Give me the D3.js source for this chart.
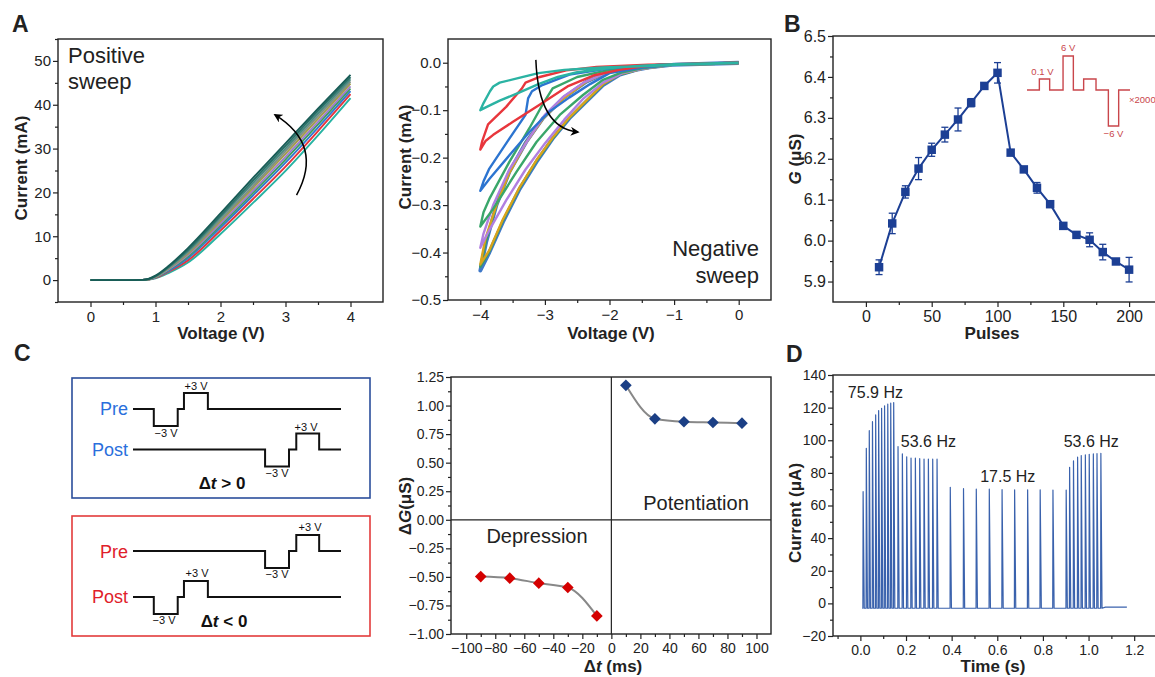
<!DOCTYPE html>
<html>
<head>
<meta charset="utf-8">
<script src="https://cdn.jsdelivr.net/npm/d3@7"></script>
<style>
  body { margin: 0; background: #fff; }
  svg { display: block; font-family: "Liberation Sans", Arial, Helvetica, sans-serif; }
</style>
</head>
<body>
<svg id="fig" width="1155" height="677"></svg>
<script>
// ---------- data ----------

// A, positive sweep: voltage grid and currents (mA) per cycle, bottom -> top
const sweepVoltage = [0, 0.5, 0.8, 0.9, 1.0, 1.2, 1.5, 2.0, 2.5, 3.0, 3.5, 4.0];
const positiveCurves = [
  { color: '#27b3a3', current: [0, 0, 0.02, 0.10, 0.40, 1.6, 4.0, 10.5, 17.6, 24.9, 33.0, 41.5] },
  { color: '#e5343c', current: [0, 0, 0.02, 0.12, 0.50, 1.9, 4.5, 11.3, 18.5, 25.9, 34.0, 42.4] },
  { color: '#3179d0', current: [0, 0, 0.03, 0.15, 0.60, 2.1, 5.0, 12.0, 19.3, 26.8, 34.8, 43.1] },
  { color: '#3a9f5c', current: [0, 0, 0.03, 0.17, 0.65, 2.3, 5.4, 12.5, 19.9, 27.5, 35.5, 43.7] },
  { color: '#9b7bd0', current: [0, 0, 0.03, 0.18, 0.70, 2.4, 5.7, 12.9, 20.4, 28.1, 36.1, 44.2] },
  { color: '#a39a4a', current: [0, 0, 0.04, 0.20, 0.75, 2.6, 6.0, 13.4, 21.0, 28.8, 36.8, 44.8] },
  { color: '#7e8f86', current: [0, 0, 0.04, 0.22, 0.80, 2.7, 6.3, 13.8, 21.5, 29.4, 37.4, 45.3] },
  { color: '#4b8a80', current: [0, 0, 0.04, 0.24, 0.85, 2.9, 6.6, 14.3, 22.1, 30.0, 38.0, 45.8] },
  { color: '#2a7068', current: [0, 0, 0.05, 0.27, 0.90, 3.0, 6.9, 14.7, 22.7, 30.6, 38.6, 46.3] },
  { color: '#185c56', current: [0, 0, 0.05, 0.30, 1.00, 3.2, 7.3, 15.2, 23.3, 31.2, 39.1, 46.8] },
];

// A, negative sweep: closed I-V loops [V, mA]
const negativeLoops = [
  { color: '#2bb3a3', width: 2.4, points: [[0,0],[-1,-0.003],[-1.5,-0.006],[-2,-0.011],[-2.5,-0.02],[-2.8,-0.03],[-3.1,-0.045],[-3.4,-0.063],[-3.7,-0.08],[-3.9,-0.093],[-4,-0.1],
    [-3.95,-0.085],[-3.85,-0.06],[-3.8,-0.05],[-3.7,-0.042],[-3.4,-0.032],[-3.1,-0.022],[-2.7,-0.015],[-2.1,-0.01],[-1.4,-0.007],[-0.7,-0.003],[0,-0.001]] },
  { color: '#e8363c', width: 2.4, points: [[0,0],[-1,-0.003],[-1.5,-0.008],[-1.85,-0.015],[-2.25,-0.027],[-2.65,-0.05],[-3.1,-0.09],[-3.5,-0.125],[-3.8,-0.152],[-3.92,-0.165],[-4,-0.183],
    [-3.97,-0.165],[-3.88,-0.13],[-3.6,-0.093],[-3.36,-0.055],[-3.3,-0.042],[-3.08,-0.03],[-2.67,-0.016],[-2.2,-0.009],[-1.4,-0.004],[0,-0.001]] },
  { color: '#2c74d0', width: 2.4, points: [[0,0],[-1,-0.004],[-1.5,-0.01],[-2,-0.022],[-2.3,-0.045],[-2.62,-0.073],[-2.93,-0.103],[-3.24,-0.146],[-3.55,-0.195],[-3.86,-0.245],[-4,-0.27],
    [-3.95,-0.25],[-3.86,-0.223],[-3.55,-0.16],[-3.3,-0.11],[-3.26,-0.075],[-3.2,-0.06],[-3.04,-0.047],[-2.62,-0.025],[-2,-0.012],[-1.2,-0.004],[0,-0.001]] },
  { color: '#3aa66a', width: 2.4, points: [[0,0],[-1,-0.004],[-1.5,-0.012],[-1.8,-0.02],[-2.1,-0.036],[-2.41,-0.068],[-2.77,-0.11],[-3.13,-0.167],[-3.44,-0.23],[-3.8,-0.308],[-4,-0.345],
    [-3.95,-0.315],[-3.86,-0.287],[-3.55,-0.209],[-3.24,-0.138],[-3.04,-0.089],[-2.88,-0.054],[-2.5,-0.03],[-2,-0.015],[-1.2,-0.005],[0,-0.001]] },
  { color: '#b07fe0', width: 2.4, points: [[0,0],[-1,-0.004],[-1.5,-0.013],[-1.8,-0.022],[-2.1,-0.042],[-2.4,-0.075],[-2.7,-0.12],[-3,-0.17],[-3.3,-0.225],[-3.6,-0.29],[-3.85,-0.35],[-4,-0.39],
    [-3.95,-0.36],[-3.8,-0.3],[-3.55,-0.225],[-3.25,-0.16],[-3,-0.11],[-2.7,-0.07],[-2.4,-0.042],[-2,-0.018],[-1.2,-0.005],[0,-0.001]] },
  { color: '#d8a31c', width: 2.4, points: [[0,0],[-1,-0.004],[-1.5,-0.013],[-1.84,-0.024],[-2.1,-0.045],[-2.36,-0.08],[-2.62,-0.115],[-2.88,-0.158],[-3.13,-0.205],[-3.39,-0.262],[-3.65,-0.33],[-3.86,-0.395],[-4,-0.425],
    [-3.92,-0.37],[-3.75,-0.3],[-3.55,-0.232],[-3.29,-0.168],[-3.03,-0.118],[-2.72,-0.076],[-2.36,-0.04],[-2,-0.018],[-1.2,-0.005],[0,-0.001]] },
  { color: '#3a9a66', width: 2.4, points: [[0,0],[-1,-0.004],[-1.5,-0.013],[-1.84,-0.025],[-2.1,-0.046],[-2.36,-0.081],[-2.62,-0.116],[-2.88,-0.16],[-3.13,-0.207],[-3.39,-0.264],[-3.65,-0.333],[-3.86,-0.398],[-4,-0.43],
    [-3.91,-0.375],[-3.75,-0.3],[-3.55,-0.23],[-3.29,-0.167],[-3.03,-0.117],[-2.72,-0.075],[-2.36,-0.04],[-2,-0.018],[-1.2,-0.005],[0,-0.001]] },
  { color: '#3f78c8', width: 3.8, points: [[0,0],[-1,-0.004],[-1.38,-0.01],[-1.59,-0.015],[-1.84,-0.025],[-2.1,-0.047],[-2.36,-0.082],[-2.62,-0.117],[-2.88,-0.16],[-3.13,-0.209],[-3.39,-0.266],[-3.65,-0.336],[-3.86,-0.4],[-4,-0.438],
    [-3.91,-0.379],[-3.75,-0.3],[-3.55,-0.23],[-3.29,-0.167],[-3.03,-0.117],[-2.72,-0.075],[-2.36,-0.04],[-2,-0.018],[-1.2,-0.005],[0,-0.001]] },
];

// B, conductance vs pulse number
const pulseNumbers = [10, 20, 30, 40, 50, 60, 70, 80, 90, 100, 110, 120, 130, 140, 150, 160, 170, 180, 190, 200];
const conductance = [5.935, 6.042, 6.119, 6.176, 6.222, 6.259, 6.296, 6.337, 6.378, 6.410, 6.215, 6.174, 6.129, 6.089, 6.036, 6.014, 6.002, 5.972, 5.949, 5.929];
const conductanceErr = [0.018, 0.025, 0.015, 0.027, 0.016, 0.018, 0.028, 0.010, 0.005, 0.025, 0.006, 0.004, 0.013, 0.007, 0.008, 0.005, 0.017, 0.019, 0.004, 0.030];
// B inset: pulse scheme [step position, volts]
const pulseScheme = [[0,0],[12,0],[12,0.1],[22,0.1],[22,0],[35,0],[35,6],[45,6],[45,0],[55,0],[55,0.1],[67,0.1],[67,0],[79,0],[79,-6],[89,-6],[89,0],[100,0]];

// C, spike-timing waveforms [time step, volts]
const waveEarly = [[0,0],[10,0],[10,-3],[21.5,-3],[21.5,0],[24.5,0],[24.5,3],[36,3],[36,0],[100,0]];
const waveLate = [[0,0],[63.5,0],[63.5,-3],[75,-3],[75,0],[78.5,0],[78.5,3],[89.5,3],[89.5,0],[100,0]];
// C, STDP
const dtPotentiation = [10, 30, 50, 70, 90];
const dGPotentiation = [1.177, 0.884, 0.858, 0.852, 0.846];
const dtDepression = [-90, -70, -50, -30, -10];
const dGDepression = [-0.497, -0.511, -0.555, -0.593, -0.842];

// D, spike train: times (s) and peak currents (uA)
const spikeTimes = [
  0.012, 0.026, 0.039, 0.053, 0.067, 0.080, 0.093, 0.106, 0.120, 0.133, 0.146,
  0.165, 0.184, 0.203, 0.222, 0.241, 0.260, 0.279, 0.298, 0.317, 0.336,
  0.394, 0.452, 0.508, 0.565, 0.621, 0.676, 0.733, 0.788, 0.844, 0.902,
  0.917, 0.934, 0.952, 0.968, 0.986, 1.003, 1.021, 1.037, 1.054,
];
const spikePeaks = [
  68.5, 95.1, 105.9, 111.4, 115.5, 118.2, 119.6, 121.1, 122.1, 122.7, 123.1,
  96.1, 91.6, 89.9, 89.1, 89.0, 88.7, 88.5, 88.5, 88.4, 88.4,
  71.2, 70.3, 70.0, 70.0, 69.8, 69.6, 69.6, 69.6, 69.5, 69.5,
  83.4, 87.3, 89.6, 90.6, 91.0, 91.4, 91.6, 91.8, 92.0,
];
const restCurrent = -3;
const tailCurrent = -2.3;
const traceStart = 0.008;
const traceEnd = 1.168;
const freqLabels = [
  { text: '75.9 Hz', t: 0.066, v: 126 },
  { text: '53.6 Hz', t: 0.298, v: 95.9 },
  { text: '17.5 Hz', t: 0.646, v: 74.6 },
  { text: '53.6 Hz', t: 1.012, v: 95.9 },
];

// ---------- drawing ----------
const svg = d3.select('#fig');
const ink = '#222';
let clipCount = 0;

const defs = svg.append('defs');
defs.append('marker')
  .attr('id', 'arrow').attr('viewBox', '0 0 10 10').attr('refX', 8).attr('refY', 5)
  .attr('markerWidth', 9).attr('markerHeight', 9).attr('markerUnits', 'userSpaceOnUse')
  .attr('orient', 'auto')
  .append('path').attr('d', 'M0,0 L10,5 L0,10 L3,5 Z').attr('fill', '#000');

/**
 * Framed plot with outward major/minor ticks on bottom and left.
 */
const makePanel = o => {
  const x = d3.scaleLinear().domain(o.xDomain).range([o.left, o.right]);
  const y = d3.scaleLinear().domain(o.yDomain).range([o.bottom, o.top]);
  const id = 'clip' + (clipCount++);
  defs.append('clipPath').attr('id', id).append('rect')
    .attr('x', o.left).attr('y', o.top).attr('width', o.right - o.left).attr('height', o.bottom - o.top);

  const axes = svg.append('g');
  axes.append('g').attr('transform', `translate(0,${o.bottom})`)
    .call(d3.axisBottom(x).tickValues(o.xMinor).tickFormat('').tickSize(3).tickSizeOuter(0));
  axes.append('g').attr('transform', `translate(0,${o.bottom})`)
    .call(d3.axisBottom(x).tickValues(o.xTicks).tickFormat(o.xFormat).tickSize(5).tickSizeOuter(0).tickPadding(4));
  axes.append('g').attr('transform', `translate(${o.left},0)`)
    .call(d3.axisLeft(y).tickValues(o.yMinor).tickFormat('').tickSize(3).tickSizeOuter(0));
  axes.append('g').attr('transform', `translate(${o.left},0)`)
    .call(d3.axisLeft(y).tickValues(o.yTicks).tickFormat(o.yFormat).tickSize(5).tickSizeOuter(0).tickPadding(2));
  axes.selectAll('.domain').attr('stroke', 'none');
  axes.selectAll('.tick line').attr('stroke', ink).attr('stroke-width', 1.2);
  axes.selectAll('.tick text').attr('fill', ink).style('font-size', o.fontSize + 'px')
    .style('font-family', '"Liberation Sans", Arial, sans-serif');

  svg.append('rect')
    .attr('x', o.left).attr('y', o.top).attr('width', o.right - o.left).attr('height', o.bottom - o.top)
    .attr('fill', 'none').attr('stroke', ink).attr('stroke-width', 1.4);

  const plot = svg.append('g').attr('clip-path', `url(#${id})`);
  return { x, y, plot };
};

const boldText = (x, y, txt, size, anchor) => svg.append('text')
  .attr('x', x).attr('y', y).attr('text-anchor', anchor || 'middle')
  .style('font-size', size + 'px').style('font-weight', 'bold').attr('fill', ink).text(txt);

const rotatedTitle = (cx, cy, size) => svg.append('text')
  .attr('transform', `translate(${cx},${cy}) rotate(-90)`)
  .attr('text-anchor', 'middle').style('font-size', size + 'px').style('font-weight', 'bold').attr('fill', ink);

// panel letters
boldText(12, 32, 'A', 23, 'start');
boldText(784, 32, 'B', 23, 'start');
boldText(14, 361, 'C', 23, 'start');
boldText(786, 362, 'D', 23, 'start');

// ---- A: positive sweep ----
{
  const p = makePanel({
    left: 58, right: 383, top: 39, bottom: 302,
    xDomain: [-0.5, 4.5], yDomain: [-5, 55],
    xTicks: [0, 1, 2, 3, 4], xMinor: [0.5, 1.5, 2.5, 3.5], xFormat: d3.format('d'),
    yTicks: [0, 10, 20, 30, 40, 50], yMinor: [-5, 5, 15, 25, 35, 45, 55], yFormat: d3.format('d'),
    fontSize: 15,
  });
  const line = d3.line().x((d, i) => p.x(sweepVoltage[i])).y(d => p.y(d)).curve(d3.curveMonotoneX);
  p.plot.selectAll('path.iv').data(positiveCurves).enter().append('path')
    .attr('class', 'iv').attr('d', d => line(d.current))
    .attr('fill', 'none').attr('stroke', d => d.color).attr('stroke-width', 1.9);

  const path = d3.path();
  path.moveTo(p.x(3.17), p.y(19.4));
  path.quadraticCurveTo(p.x(3.59), p.y(30.8), p.x(2.84), p.y(37.7));
  svg.append('path').attr('d', path.toString()).attr('fill', 'none').attr('stroke', '#000')
    .attr('stroke-width', 1.5).attr('marker-end', 'url(#arrow)');

  svg.append('text').attr('x', 68).attr('y', 63).style('font-size', '22px').attr('fill', ink).text('Positive');
  svg.append('text').attr('x', 68).attr('y', 89).style('font-size', '22px').attr('fill', ink).text('sweep');
  boldText(221, 339, 'Voltage (V)', 17);
  rotatedTitle(27, 168, 17).text('Current (mA)');
}

// ---- A: negative sweep ----
{
  const p = makePanel({
    left: 448, right: 771, top: 39, bottom: 300,
    xDomain: [-4.5, 0.5], yDomain: [-0.5, 0.05],
    xTicks: [-4, -3, -2, -1, 0], xMinor: [-3.5, -2.5, -1.5, -0.5], xFormat: d3.format('d'),
    yTicks: [0, -0.1, -0.2, -0.3, -0.4, -0.5], yMinor: [-0.05, -0.15, -0.25, -0.35, -0.45], yFormat: d3.format('.1f'),
    fontSize: 15,
  });
  const line = d3.line().x(d => p.x(d[0])).y(d => p.y(d[1])).curve(d3.curveLinear);
  p.plot.selectAll('path.loop').data(negativeLoops.slice().reverse()).enter().append('path')
    .attr('class', 'loop').attr('d', d => line(d.points))
    .attr('fill', 'none').attr('stroke', d => d.color).attr('stroke-width', d => d.width)
    .attr('stroke-linejoin', 'round');

  const path = d3.path();
  path.moveTo(p.x(-3.14), p.y(0.006));
  path.quadraticCurveTo(p.x(-3.1), p.y(-0.138), p.x(-2.49), p.y(-0.146));
  svg.append('path').attr('d', path.toString()).attr('fill', 'none').attr('stroke', '#000')
    .attr('stroke-width', 1.5).attr('marker-end', 'url(#arrow)');

  svg.append('text').attr('x', 759).attr('y', 256).attr('text-anchor', 'end').style('font-size', '22px').attr('fill', ink).text('Negative');
  svg.append('text').attr('x', 759).attr('y', 283).attr('text-anchor', 'end').style('font-size', '22px').attr('fill', ink).text('sweep');
  boldText(611, 339, 'Voltage (V)', 17);
  rotatedTitle(411, 157, 17).text('Current (mA)');
}

// ---- B: potentiation / depression ----
{
  const navy = '#1c3f94';
  const p = makePanel({
    left: 833, right: 1162, top: 36, bottom: 302,
    xDomain: [-25, 225], yDomain: [5.85, 6.5],
    xTicks: [0, 50, 100, 150, 200], xMinor: [25, 75, 125, 175], xFormat: d3.format('d'),
    yTicks: [5.9, 6.0, 6.1, 6.2, 6.3, 6.4, 6.5], yMinor: [5.95, 6.05, 6.15, 6.25, 6.35, 6.45], yFormat: d3.format('.1f'),
    fontSize: 16,
  });
  const pts = pulseNumbers.map((n, i) => ({ n, g: conductance[i], e: conductanceErr[i] }));
  p.plot.append('path').datum(pts)
    .attr('d', d3.line().x(d => p.x(d.n)).y(d => p.y(d.g)))
    .attr('fill', 'none').attr('stroke', navy).attr('stroke-width', 2);
  const err = p.plot.selectAll('g.err').data(pts).enter().append('g').attr('class', 'err')
    .attr('stroke', navy).attr('stroke-width', 1.3);
  err.append('line').attr('x1', d => p.x(d.n)).attr('x2', d => p.x(d.n))
    .attr('y1', d => p.y(d.g - d.e)).attr('y2', d => p.y(d.g + d.e));
  err.append('line').attr('x1', d => p.x(d.n) - 3.5).attr('x2', d => p.x(d.n) + 3.5)
    .attr('y1', d => p.y(d.g - d.e)).attr('y2', d => p.y(d.g - d.e));
  err.append('line').attr('x1', d => p.x(d.n) - 3.5).attr('x2', d => p.x(d.n) + 3.5)
    .attr('y1', d => p.y(d.g + d.e)).attr('y2', d => p.y(d.g + d.e));
  p.plot.selectAll('path.sq').data(pts).enter().append('path').attr('class', 'sq')
    .attr('d', d3.symbol().type(d3.symbolSquare).size(72))
    .attr('transform', d => `translate(${p.x(d.n)},${p.y(d.g)})`).attr('fill', navy);

  // inset pulse scheme
  const red = '#c9464b';
  const ix = d3.scaleLinear().domain([0, 100]).range([1027, 1130]);
  const iy = d3.scaleLinear().domain([-6, 0, 0.1, 6]).range([126, 90, 79, 56]);
  svg.append('path').datum(pulseScheme)
    .attr('d', d3.line().x(d => ix(d[0])).y(d => iy(d[1])))
    .attr('fill', 'none').attr('stroke', red).attr('stroke-width', 1.4);
  const insetLabel = (x, y, t, anchor) => svg.append('text').attr('x', x).attr('y', y)
    .attr('text-anchor', anchor || 'middle').style('font-size', '9.5px').attr('fill', red).text(t);
  insetLabel(ix(15), 75, '0.1 V');
  insetLabel(ix(40), 51, '6 V');
  insetLabel(ix(84), 137, '\u22126 V');
  insetLabel(1129, 103, '\u00d72000', 'start');

  boldText(992, 339, 'Pulses', 17);
  const t = rotatedTitle(801, 159, 17);
  t.append('tspan').style('font-style', 'italic').text('G');
  t.append('tspan').text(' (\u03bcS)');
}

// ---- C: spike timing schemes ----
{
  const wx = d3.scaleLinear().domain([0, 100]).range([133, 341]);
  const lvl = d3.scaleLinear().domain([-3, 0, 3]).range([17, 0, -16]);
  const blue = '#2a6fdc', red = '#e0202a';
  const waveLine = base => d3.line().x(d => wx(d[0])).y(d => base + lvl(d[1]));

  const drawWave = (wave, base) => svg.append('path').datum(wave).attr('d', waveLine(base))
    .attr('fill', 'none').attr('stroke', '#111').attr('stroke-width', 2);
  const smallLabel = (x, y, t) => svg.append('text').attr('x', x).attr('y', y)
    .attr('text-anchor', 'middle').style('font-size', '11px').attr('fill', '#111').text(t);
  const nameLabel = (y, t, c) => svg.append('text').attr('x', 128).attr('y', y)
    .attr('text-anchor', 'end').style('font-size', '18px').attr('fill', c).text(t);
  const dtLabel = (x, y, sign) => {
    const t = svg.append('text').attr('x', x).attr('y', y).attr('text-anchor', 'middle')
      .style('font-size', '17px').style('font-weight', 'bold').attr('fill', '#111');
    t.append('tspan').text('\u0394');
    t.append('tspan').style('font-style', 'italic').text('t');
    t.append('tspan').text(` ${sign} 0`);
  };

  svg.append('rect').attr('x', 72).attr('y', 378).attr('width', 298).attr('height', 120)
    .attr('fill', 'none').attr('stroke', '#2b4e9b').attr('stroke-width', 1.6);
  nameLabel(415, 'Pre', blue);
  nameLabel(456, 'Post', blue);
  drawWave(waveEarly, 409);
  drawWave(waveLate, 449.5);
  smallLabel(196, 390, '+3 V');
  smallLabel(166, 437, '\u22123 V');
  smallLabel(306, 431, '+3 V');
  smallLabel(277, 477, '\u22123 V');
  dtLabel(222, 489, '>');

  svg.append('rect').attr('x', 72).attr('y', 516).attr('width', 298).attr('height', 120)
    .attr('fill', 'none').attr('stroke', '#e33b3b').attr('stroke-width', 1.6);
  nameLabel(558, 'Pre', red);
  nameLabel(603, 'Post', red);
  drawWave(waveLate, 551);
  drawWave(waveEarly, 597);
  smallLabel(310, 531, '+3 V');
  smallLabel(277, 578, '\u22123 V');
  smallLabel(197, 577, '+3 V');
  smallLabel(164, 624, '\u22123 V');
  dtLabel(224, 627, '<');
}

// ---- C: STDP ----
{
  const p = makePanel({
    left: 451, right: 771, top: 377, bottom: 634,
    xDomain: [-110.5, 110], yDomain: [-1, 1.25],
    xTicks: d3.range(-100, 101, 20), xMinor: d3.range(-90, 91, 20), xFormat: d3.format('d'),
    yTicks: d3.range(-1, 1.26, 0.25), yMinor: d3.range(-0.875, 1.2, 0.25), yFormat: d3.format('.2f'),
    fontSize: 14,
  });
  p.plot.append('line').attr('x1', p.x(0)).attr('x2', p.x(0)).attr('y1', p.y(1.25)).attr('y2', p.y(-1))
    .attr('stroke', ink).attr('stroke-width', 1.2);
  p.plot.append('line').attr('x1', p.x(-110.5)).attr('x2', p.x(110)).attr('y1', p.y(0)).attr('y2', p.y(0))
    .attr('stroke', ink).attr('stroke-width', 1.2);

  const sets = [
    { dt: dtPotentiation, dg: dGPotentiation, color: '#1b3f85' },
    { dt: dtDepression, dg: dGDepression, color: '#d40000' },
  ];
  sets.forEach(s => {
    const pts = s.dt.map((t, i) => [t, s.dg[i]]);
    p.plot.append('path').datum(pts)
      .attr('d', d3.line().x(d => p.x(d[0])).y(d => p.y(d[1])).curve(d3.curveMonotoneX))
      .attr('fill', 'none').attr('stroke', '#888').attr('stroke-width', 2);
    p.plot.selectAll(null).data(pts).enter().append('path')
      .attr('d', d3.symbol().type(d3.symbolSquare).size(68))
      .attr('transform', d => `translate(${p.x(d[0])},${p.y(d[1])}) rotate(45)`)
      .attr('fill', s.color);
  });

  svg.append('text').attr('x', 696).attr('y', 510).attr('text-anchor', 'middle').style('font-size', '20px').attr('fill', ink).text('Potentiation');
  svg.append('text').attr('x', 537).attr('y', 543).attr('text-anchor', 'middle').style('font-size', '20px').attr('fill', ink).text('Depression');

  const xt = boldText(613, 672, '', 17);
  xt.append('tspan').text('\u0394');
  xt.append('tspan').style('font-style', 'italic').text('t');
  xt.append('tspan').text(' (ms)');
  const yt = rotatedTitle(411, 506, 17);
  yt.append('tspan').text('\u0394');
  yt.append('tspan').style('font-style', 'italic').text('G');
  yt.append('tspan').text('(\u03bcS)');
}

// ---- D: spike train ----
{
  const p = makePanel({
    left: 833, right: 1157, top: 375, bottom: 636,
    xDomain: [-0.12, 1.3], yDomain: [-20, 140],
    xTicks: [0, 0.2, 0.4, 0.6, 0.8, 1.0, 1.2], xMinor: [-0.1, 0.1, 0.3, 0.5, 0.7, 0.9, 1.1], xFormat: d3.format('.1f'),
    yTicks: d3.range(-20, 141, 20), yMinor: d3.range(-10, 131, 20), yFormat: d3.format('d'),
    fontSize: 14,
  });
  // build trace: rest level between spikes, sharp rise and quick decay at each spike
  const trace = [[traceStart, restCurrent]];
  spikeTimes.forEach((t, i) => {
    trace.push([t - 0.001, restCurrent], [t, spikePeaks[i]], [t + 0.005, restCurrent]);
  });
  trace.push([spikeTimes[spikeTimes.length - 1] + 0.02, tailCurrent], [traceEnd, tailCurrent]);
  p.plot.append('path').datum(trace)
    .attr('d', d3.line().x(d => p.x(d[0])).y(d => p.y(d[1])))
    .attr('fill', 'none').attr('stroke', '#3a62ad').attr('stroke-width', 1.2).attr('stroke-linejoin', 'round');

  svg.selectAll('text.hz').data(freqLabels).enter().append('text').attr('class', 'hz')
    .attr('x', d => p.x(d.t)).attr('y', d => p.y(d.v)).attr('text-anchor', 'middle')
    .style('font-size', '16px').attr('fill', ink).text(d => d.text);

  boldText(993, 672, 'Time (s)', 17);
  rotatedTitle(801, 513, 17).text('Current (\u03bcA)');
}
</script>
</body>
</html>
